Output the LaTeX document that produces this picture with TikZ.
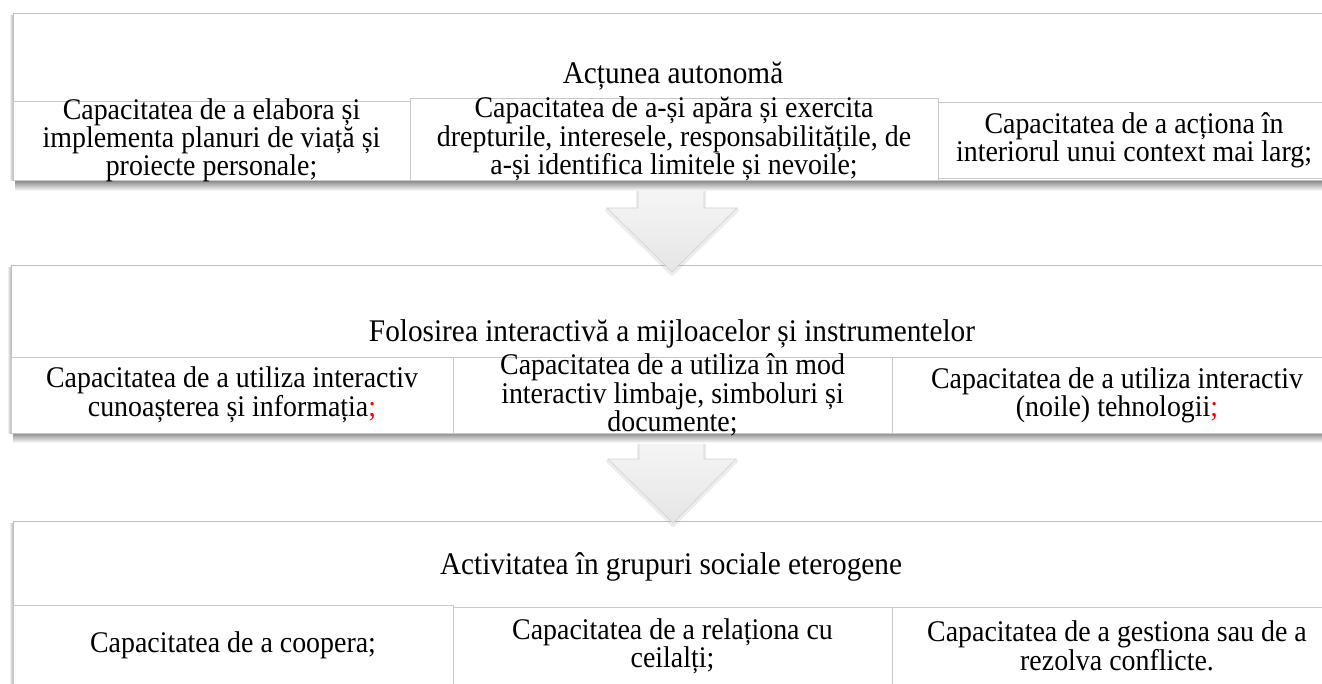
\documentclass[tikz,border=0pt]{standalone}
\usepackage{fontspec}
\setmainfont{Liberation Serif}[FakeStretch=0.93]
\usetikzlibrary{positioning, calc}
\definecolor{framegray}{HTML}{BFBFBF}
\definecolor{cellgray}{HTML}{C9C9C9}
\definecolor{semired}{HTML}{FF0000}

\begin{document}
\begin{tikzpicture}[x=1pt, y=-1pt,
    panel/.style={draw=framegray, fill=white, line width=1pt},
    cell/.style={draw=cellgray, fill=white, line width=0.8pt, inner xsep=0pt, inner ysep=-8pt,
        align=center, font=\fontsize{30}{25.5}\selectfont},
    heading/.style={inner sep=0pt, font=\fontsize{31.5}{32}\selectfont},
    undershadow/.style={top color=black!45, bottom color=white, draw=none},
    sideshadow/.style={left color=white, right color=black!28, draw=none},
    blockarrow/.style={top color=black!3, bottom color=black!10, draw=black!18, line width=0.6pt},
    arrowhalo/.style={draw=black!40, line width=4pt, line join=round, opacity=0.18}
]
\useasboundingbox (0,0) rectangle (1322,684);
\clip (0,0) rectangle (1322,684);

% panel 3: activitatea in grupuri
\shade[sideshadow] (9,523) rectangle (13,684);
\draw[panel] (13,521) rectangle (1340,700);
\node[heading] (grupuri) at (671,567) {Activitatea în grupuri sociale eterogene};
\node[cell, minimum width=440pt, minimum height=80pt] (coop) at (233,645) {\raisebox{6pt}{Capacitatea de a coopera;}};
\node[cell, minimum width=439pt, minimum height=78pt] (relatie) at (672.5,646) {Capacitatea de a relaționa cu\\ ceilalți;};
\node[cell, minimum width=450pt, minimum height=78pt] (conflict) at (1117,646) {Capacitatea de a gestiona sau de a\\ rezolva conflicte.};

% arrow 2
\coordinate (tip2) at (673,523);
\draw[arrowhalo] ($(tip2)+(0,2)$) -- ++(-65,-64) -- ++(31,0) -- ++(0,-30) -- ++(65,0) -- ++(0,30) -- ++(32,0) -- cycle;
\draw[blockarrow] (tip2) -- ++(-65,-64) -- ++(31,0) -- ++(0,-30) -- ++(65,0) -- ++(0,30) -- ++(32,0) -- cycle;

% panel 2: folosirea interactiva
\shade[undershadow] (13,433) rectangle (1340,443);
\shade[sideshadow] (7,268) rectangle (11,433);
\draw[panel] (11,266) rectangle (1340,433);
\node[heading] (folosire) at (672,334) {Folosirea interactivă a mijloacelor și instrumentelor};
\node[cell, minimum width=442pt, minimum height=76pt] (cunoastere) at (232,395) {Capacitatea de a utiliza interactiv\\ cunoașterea și informația\textcolor{semired}{;}};
\node[cell, minimum width=439pt, minimum height=76pt] (limbaje) at (672.5,395) {Capacitatea de a utiliza în mod\\ interactiv limbaje, simboluri și\\ documente;};
\node[cell, minimum width=450pt, minimum height=76pt] (tehno) at (1117,395) {Capacitatea de a utiliza interactiv\\ (noile) tehnologii\textcolor{semired}{;}};

% arrow 1
\coordinate (tip1) at (672,272);
\draw[arrowhalo] ($(tip1)+(0,2)$) -- ++(-65,-64) -- ++(31,0) -- ++(0,-30) -- ++(66,0) -- ++(0,30) -- ++(33,0) -- cycle;
\draw[blockarrow] (tip1) -- ++(-65,-64) -- ++(31,0) -- ++(0,-30) -- ++(66,0) -- ++(0,30) -- ++(33,0) -- cycle;

% panel 1: actiunea autonoma
\shade[undershadow] (15,181) rectangle (1340,191);
\shade[sideshadow] (9,16) rectangle (13,181);
\draw[panel] (13,14) rectangle (1340,181);
\node[heading] (autonom) at (673,76) {Acțunea autonomă};
\node[cell, minimum width=397pt, minimum height=79pt] (planuri) at (211.5,140.5) {Capacitatea de a elabora și\\ implementa planuri de viață și\\ proiecte personale;};
\node[cell, minimum width=528pt, minimum height=82pt] (drepturi) at (674,139) {Capacitatea de a-și apăra și exercita\\ drepturile, interesele, responsabilitățile, de\\ a-și identifica limitele și nevoile;};
\node[cell, minimum width=392pt, minimum height=76pt] (context) at (1134,140) {Capacitatea de a acționa în\\ interiorul unui context mai larg;};
\end{tikzpicture}
\end{document}
